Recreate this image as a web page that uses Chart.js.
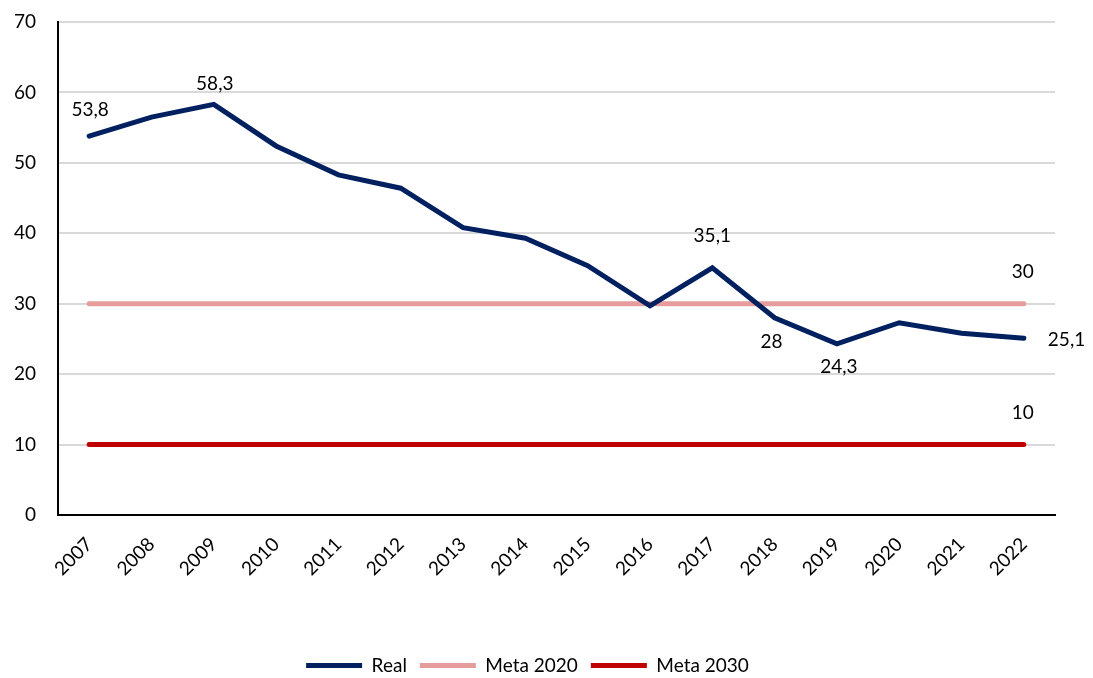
<!DOCTYPE html>
<html>
<head>
<meta charset="utf-8">
<script src="https://cdn.jsdelivr.net/npm/chart.js@4.4.1/dist/chart.umd.min.js"></script>
<style>
  html, body { margin: 0; padding: 0; background: #fff; }
  #wrap { width: 1093px; height: 678px; }
</style>
</head>
<body>
<div id="wrap"><canvas id="can" width="1093" height="678"></canvas></div>
<script>
// data
const anos = ['2007','2008','2009','2010','2011','2012','2013','2014','2015','2016','2017','2018','2019','2020','2021','2022']
const real = [53.8, 56.5, 58.3, 52.4, 48.3, 46.4, 40.8, 39.3, 35.4, 29.7, 35.1, 28, 24.3, 27.3, 25.8, 25.1]
const meta2020 = [30,30,30,30,30,30,30,30,30,30,30,30,30,30,30,30]
const meta2030 = [10,10,10,10,10,10,10,10,10,10,10,10,10,10,10,10]
const yTicks = [0, 10, 20, 30, 40, 50, 60, 70]

// which points get a value label: index -> [dx, dy, align]
const etiquetasReal = {0: [1, -26, 'center'], 2: [1, -21, 'center'], 10: [0, -32, 'center'],
                       11: [-3, 24, 'center'], 12: [2, 23, 'center'], 15: [24, 2, 'left']}
const etiquetasMeta = {15: [-1, -32, 'center']}

const fonte = 'Lato, "Liberation Sans", sans-serif'

function formata(v) {
    return String(v).replace('.', ',')
}

const rotulos = {
    id: 'rotulos',
    afterDatasetsDraw(chart) {
        const ctx = chart.ctx
        ctx.save()
        ctx.font = '19px ' + fonte
        ctx.fillStyle = '#000'
        ctx.textBaseline = 'middle'
        chart.data.datasets.forEach((ds, i) => {
            const meta = chart.getDatasetMeta(i)
            const mapa = i == 0 ? etiquetasReal : etiquetasMeta
            Object.keys(mapa).forEach(k => {
                const p = meta.data[k]
                const [dx, dy, al] = mapa[k]
                ctx.textAlign = al
                ctx.fillText(formata(ds.data[k]), p.x + dx, p.y + dy)
            })
        })
        ctx.restore()
    }
}

const config = {
    type: 'line',
    data: {
        labels: anos,
        datasets: [
            {label: 'Real', data: real, borderColor: '#002060', backgroundColor: '#002060', borderWidth: 5},
            {label: 'Meta 2020', data: meta2020, borderColor: '#E69C9C', backgroundColor: '#E69C9C', borderWidth: 5},
            {label: 'Meta 2030', data: meta2030, borderColor: '#C00000', backgroundColor: '#C00000', borderWidth: 5}
        ]
    },
    options: {
        responsive: false,
        animation: false,
        layout: {padding: {top: 22, right: 38, left: 0, bottom: -7}},
        elements: {
            line: {tension: 0, borderCapStyle: 'round', borderJoinStyle: 'miter'},
            point: {radius: 0, hoverRadius: 0}
        },
        plugins: {
            tooltip: {enabled: false},
            legend: {
                position: 'bottom',
                labels: {
                    usePointStyle: true,
                    pointStyle: 'line',
                    pointStyleWidth: 56,
                    boxHeight: 5,
                    padding: 13,
                    color: '#000',
                    font: {family: fonte, size: 19}
                }
            }
        },
        scales: {
            x: {
                offset: true,
                grid: {display: false, drawTicks: false},
                border: {display: true, color: '#000', width: 2},
                ticks: {
                    color: '#000',
                    font: {family: fonte, size: 19},
                    minRotation: 45,
                    maxRotation: 45,
                    padding: 18
                },
                afterFit(s) { s.height = 128; s.paddingLeft = 0; s.paddingRight = 0 }
            },
            y: {
                min: 0,
                max: 70,
                afterBuildTicks(s) { s.ticks = yTicks.map(v => ({value: v})) },
                grid: {color: '#D9D9D9', lineWidth: 2, drawTicks: false},
                border: {display: true, color: '#000', width: 2},
                ticks: {
                    color: '#000',
                    font: {family: fonte, size: 19},
                    padding: 22
                },
                afterFit(s) { s.width = 58; s.paddingTop = 0; s.paddingBottom = 0 }
            }
        }
    },
    plugins: [rotulos]
}

let chart = new Chart(document.getElementById('can'), config)
</script>
</body>
</html>
